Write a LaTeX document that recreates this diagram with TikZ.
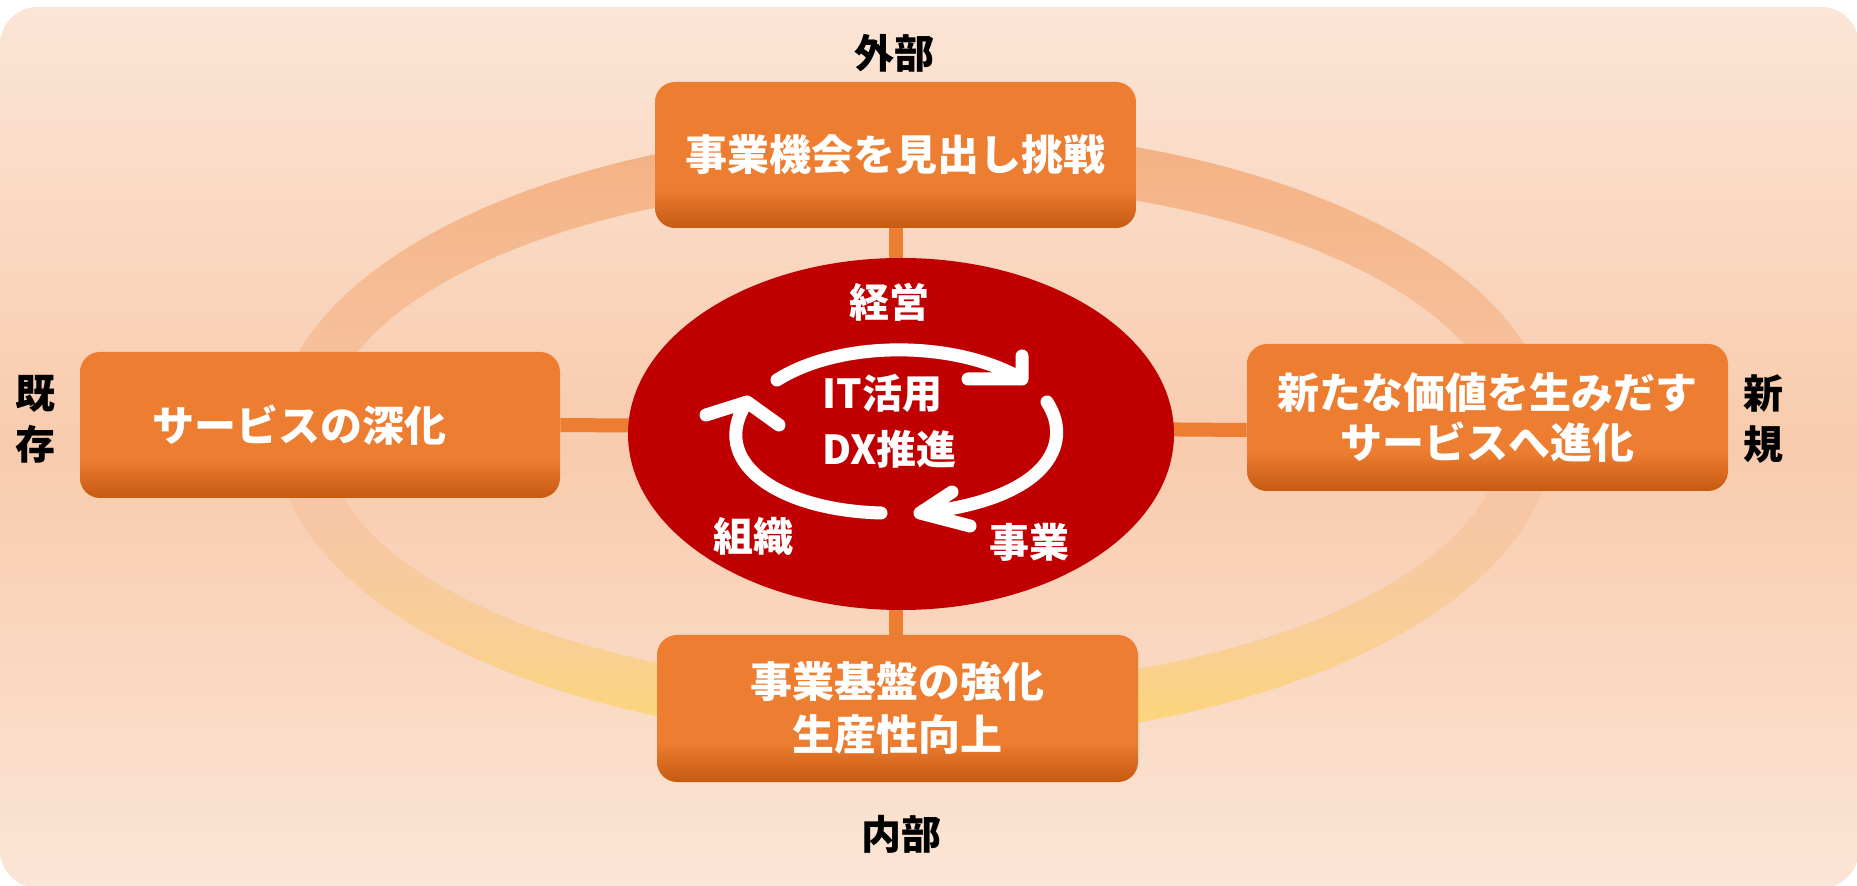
\documentclass[tikz,border=0pt]{standalone}
\usepackage{fontspec}
\setmainfont{Noto Sans CJK JP}
\usetikzlibrary{shapes.geometric,backgrounds}
\definecolor{boxorange}{HTML}{ED7D31}
\definecolor{boxdark}{HTML}{C55A11}
\definecolor{redc}{HTML}{C00000}
\definecolor{bgA}{HTML}{FBE5D6}
\definecolor{bgB}{HTML}{F8CBAD}
\definecolor{ringTop}{HTML}{F4B183}
\definecolor{ringMid}{HTML}{F7C6A4}
\definecolor{ringLow}{HTML}{F9CE98}
\definecolor{ringBot}{HTML}{FDD776}
\pgfdeclareverticalshading{boxshade}{100bp}{color(0bp)=(boxdark); color(25bp)=(boxdark); color(38.5bp)=(boxorange); color(75bp)=(boxorange); color(100bp)=(boxorange)}
\pgfdeclareverticalshading{ringshade}{100bp}{color(0bp)=(ringBot); color(25bp)=(ringBot); color(34bp)=(ringLow); color(43bp)=(ringMid); color(50bp)=(ringMid); color(75bp)=(ringTop); color(100bp)=(ringTop)}
\begin{document}
\begin{tikzpicture}[x=0.5pt,y=-0.5pt,
  box/.style={shading=boxshade, rounded corners=10pt, inner sep=0pt, text=white, align=center},
  bigtxt/.style={font=\bfseries\fontsize{21pt}{26.5pt}\selectfont},
  conn/.style={draw=boxorange, line width=7pt},
  side/.style={font=\bfseries\fontsize{20pt}{25.5pt}\selectfont, align=center, text=black, inner sep=0pt},
  coretxt/.style={text=white, font=\bfseries\fontsize{20pt}{28pt}\selectfont, inner sep=0pt},
  arrowline/.style={draw=white, line width=6.5pt, line cap=round, line join=round}]
\useasboundingbox (0,0) rectangle (1857,886);
% central ellipse
\node[ellipse, fill=redc, minimum width=273pt, minimum height=176pt, inner sep=0pt] (core) at (901,434) {};
% boxes
\node[box, bigtxt, minimum width=240.5pt, minimum height=73pt] (tbox) at (895.5,155) {事業機会を見出し挑戦};
\node[box, bigtxt, minimum width=240.5pt, minimum height=73.5pt] (bbox) at (897.5,708.5) {事業基盤の強化\\生産性向上};
\node[box, minimum width=240.5pt, minimum height=73.5pt, font=\bfseries\fontsize{21pt}{25pt}\selectfont] (rbox) at (1487.5,417.5) {新たな価値を生みだす\\サービスへ進化};
\node[box, bigtxt, minimum width=240pt, minimum height=73pt] (lbox) at (320,425) {\hspace*{-21pt}サービスの深化};
% outer labels
\node[side] (ext) at (894,53) {外部};
\node[side] (int) at (901,834) {内部};
\node[side] (old) at (36,419) {既\\存};
\node[side] (new) at (1763,419.5) {新\\規};
% core labels
\node[coretxt] (keiei) at (889.5,302) {経営};
\node[coretxt] (soshiki) at (753,536) {組織};
\node[coretxt] (jigyo) at (1029,542) {事業};
\node[coretxt, align=left, anchor=west] (itdx) at (822,421.5) {IT活用\\DX推進};
% cycle arrows
\draw[arrowline] (777,380) .. controls (840,340) and (955,340) .. (1022,379) -- (968,379) (1022,379) -- (1022,356);
\draw[arrowline] (1047,402) .. controls (1075,445) and (1045,500) .. (920,513) -- (952,492) (920,513) -- (970,526);
\draw[arrowline] (881,513) .. controls (775,510) and (708,460) .. (747,402) -- (706,415) (747,402) -- (779,425);
\begin{pgfonlayer}{background}
\shade[rounded corners=19pt, top color=bgA, bottom color=bgA, middle color=bgB] (0,7) rectangle (1859,888);
\shade[even odd rule, shading=ringshade] (914,435) ellipse (639 and 307) (914,435) ellipse (589 and 253);
\draw[conn] (tbox.south) -- (tbox.south |- bbox.north);
\draw[conn] (lbox.east) -- ([yshift=-6.25pt]rbox.west);
\end{pgfonlayer}
\end{tikzpicture}
\end{document}
